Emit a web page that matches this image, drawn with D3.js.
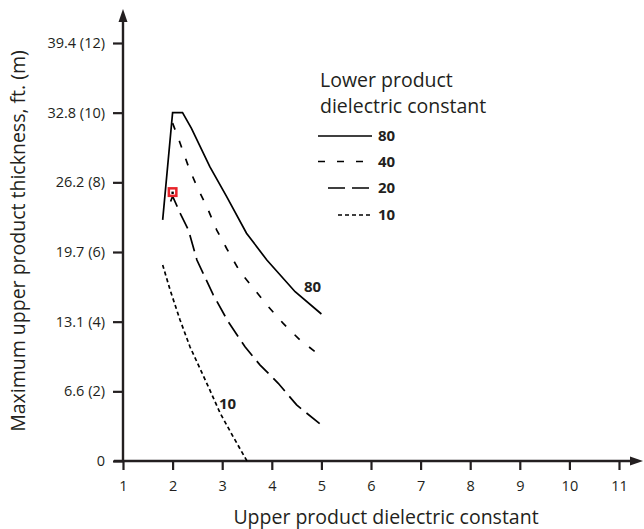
<!DOCTYPE html>
<html><head><meta charset="utf-8">
<script src="https://cdn.jsdelivr.net/npm/d3@7/dist/d3.min.js"></script>
<style>body{margin:0;background:#fff}svg{display:block}text{font-family:"Open Sans","Noto Sans",sans-serif;fill:#231f20}</style>
</head><body><svg id="c" width="644" height="529"></svg>
<script>
const xTicks = [1,2,3,4,5,6,7,8,9,10,11];
const yTickMeters = [0,2,4,6,8,10,12];
const yTickLabels = ["0","6.6 (2)","13.1 (4)","19.7 (6)","26.2 (8)","32.8 (10)","39.4 (12)"];
const curve80 = [[1.8,6.92],[2.0,10.0],[2.2,10.0],[2.38,9.55],[2.75,8.45],[3.09,7.59],[3.49,6.54],[3.9,5.77],[4.47,4.86],[5.0,4.22]];
const curve40 = [[2.0,9.7],[2.15,9.13],[2.32,8.45],[2.49,7.88],[2.69,7.3],[2.89,6.63],[3.09,6.1],[3.36,5.43],[3.63,4.96],[3.93,4.43],[4.23,3.95],[4.57,3.47],[5.0,3.0]];
const curve20 = [[1.96,7.45],[2.0,7.6],[2.15,7.12],[2.32,6.63],[2.49,5.77],[2.82,4.77],[3.12,4.0],[3.46,3.28],[3.76,2.76],[4.13,2.23],[4.5,1.61],[5.0,1.03]];
const curve10 = [[1.8,5.63],[1.95,4.91],[2.15,4.05],[2.35,3.28],[2.55,2.66],[2.75,2.04],[2.96,1.37],[3.22,0.7],[3.5,0.0]];
const seriesNames = ["80","40","20","10"];
const markerPoint = [2.0, 7.72];

const svg = d3.select("#c");
const x = d3.scaleLinear().domain([1,11]).range([123,619]);
const y = d3.scaleLinear().domain([0,12]).range([461,43]);
const ink = "#231f20";

// axes
const ax = svg.append("g").attr("transform","translate(0,461)")
  .call(d3.axisBottom(x).tickValues(xTicks).tickSize(9).tickPadding(11).tickFormat(d3.format("d")));
ax.select(".domain").remove();
ax.selectAll(".tick line").attr("stroke",ink).attr("stroke-width",2.2);
ax.selectAll(".tick text").attr("font-size",14.5).style("font-family","'Open Sans',sans-serif").attr("fill",ink);

const ay = svg.append("g").attr("transform","translate(123,0)")
  .call(d3.axisLeft(y).tickValues(yTickMeters).tickSize(10).tickPadding(8).tickFormat((d,i)=>yTickLabels[i]));
ay.select(".domain").remove();
ay.selectAll(".tick line").attr("stroke",ink).attr("stroke-width",2.2);
ay.selectAll(".tick text").attr("font-size",14.5).style("font-family","'Open Sans',sans-serif").attr("fill",ink);

// axis lines with arrows
svg.append("line").attr("x1",123).attr("y1",461).attr("x2",123).attr("y2",20).attr("stroke",ink).attr("stroke-width",2.4);
svg.append("path").attr("d","M123,9 L118.5,22 L127.5,22 Z").attr("fill",ink);
svg.append("line").attr("x1",114).attr("y1",461).attr("x2",630).attr("y2",461).attr("stroke",ink).attr("stroke-width",2.4);
svg.append("path").attr("d","M643,461 L630,456.5 L630,465.5 Z").attr("fill",ink);

// axis titles
svg.append("text").attr("x",386).attr("y",524).attr("text-anchor","middle").attr("font-size",19.5).text("Upper product dielectric constant");
svg.append("text").attr("transform","translate(25,241) rotate(-90)").attr("text-anchor","middle").attr("font-size",19.5).text("Maximum upper product thickness, ft. (m)");

const line = d3.line().x(d=>x(d[0])).y(d=>y(d[1]));
const styles = {"80":null,"40":"7,12","20":"17,7","10":"4,3"};
const data = {"80":curve80,"40":curve40,"20":curve20,"10":curve10};
seriesNames.forEach(n=>{
  svg.append("path").datum(data[n]).attr("d",line).attr("fill","none").attr("stroke","#000")
    .attr("stroke-width",1.7).attr("stroke-dasharray",styles[n]);
});

// marker
svg.append("rect").attr("x",x(markerPoint[0])-5).attr("y",y(markerPoint[1])-5).attr("width",10).attr("height",10).attr("fill","#e8232a");
svg.append("rect").attr("x",x(markerPoint[0])-2.5).attr("y",y(markerPoint[1])-2.5).attr("width",5).attr("height",5).attr("fill","#fff");
svg.append("rect").attr("x",x(markerPoint[0])-1.2).attr("y",y(markerPoint[1])-0.5).attr("width",2.4).attr("height",2.4).attr("fill","#000");

// curve labels
svg.append("text").attr("x",304).attr("y",292).attr("font-size",15).attr("font-weight","bold").text("80");
svg.append("text").attr("x",219).attr("y",408.5).attr("font-size",15).attr("font-weight","bold").text("10");

// legend
svg.append("text").attr("x",320).attr("y",87).attr("font-size",19.5).text("Lower product");
svg.append("text").attr("x",320).attr("y",113).attr("font-size",19.5).text("dielectric constant");
const legY = [136,161.5,188,215];
const legX1 = [318,318,328,338];
seriesNames.forEach((n,i)=>{
  svg.append("line").attr("x1",legX1[i]).attr("x2",372).attr("y1",legY[i]).attr("y2",legY[i])
    .attr("stroke","#000").attr("stroke-width",1.7).attr("stroke-dasharray",styles[n]);
  svg.append("text").attr("x",378).attr("y",legY[i]+5).attr("font-size",15).attr("font-weight","bold").text(n);
});
</script></body></html>
